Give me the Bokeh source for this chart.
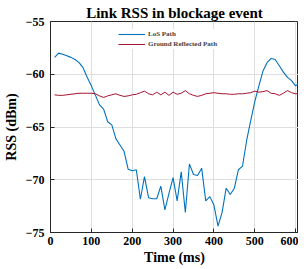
from bokeh.plotting import figure
from bokeh.models import Range1d, FixedTicker, Legend, LegendItem
from bokeh.embed import file_html
from bokeh.resources import INLINE

time_ms = [10, 20, 30, 40, 50, 60, 70, 80, 90, 100,
           110, 120, 130, 140, 150, 160, 170, 180, 190, 200,
           210, 220, 230, 240, 250, 260, 270, 280, 290, 300,
           310, 320, 330, 340, 350, 360, 370, 380, 390, 400,
           410, 420, 430, 440, 450, 460, 470, 480, 490, 500,
           510, 520, 530, 540, 550, 560, 570, 580, 590, 600, 610]

los_rss = [-58.4, -58.0, -58.1, -58.25, -58.4, -58.6, -58.9, -59.4, -60.3, -61.1,
           -62.0, -62.9, -63.3, -64.5, -64.8, -66.1, -66.7, -67.3, -69.0, -69.15,
           -69.05, -71.85, -69.7, -71.7, -71.8, -71.8, -70.6, -72.85, -71.3, -69.8,
           -72.0, -69.25, -73.1, -68.5, -69.5, -69.6, -68.9, -72.0, -71.6, -72.4,
           -74.4, -73.1, -70.8, -71.4, -70.8, -69.05, -68.7, -66.3, -64.4, -62.6,
           -61.1, -59.7, -58.9, -58.5, -58.6, -59.2, -59.8, -60.3, -60.6, -61.1, -60.8]

ground_rss = [-61.95, -62.0, -62.0, -61.95, -61.9, -61.85, -61.8, -61.8, -61.8, -61.8,
              -61.85, -62.05, -62.2, -62.05, -61.95, -61.85, -62.0, -62.1, -62.05, -61.95,
              -61.9, -61.75, -61.6, -61.85, -61.95, -61.7, -61.95, -61.7, -62.0, -61.7,
              -61.9, -61.8, -61.55, -61.85, -62.0, -62.1, -62.0, -61.85, -61.8, -61.75,
              -61.8, -61.85, -61.85, -61.9, -61.9, -61.85, -61.85, -61.8, -61.75, -61.6,
              -61.7, -61.65, -61.55, -61.8, -61.85, -62.0, -61.8, -61.55, -61.75, -61.85, -61.85]

x_ticks = [0, 100, 200, 300, 400, 500, 600]
y_ticks = [-75, -70, -65, -60, -55]
title_text = "Link RSS in blockage event"

FONT = "Liberation Serif"
AX = "#262626"

p = figure(width=298, height=267, output_backend="svg", toolbar_location=None,
           x_range=Range1d(0, 607), y_range=Range1d(-75, -55),
           title=title_text,
           min_border_left=40, min_border_right=0, min_border_top=21, min_border_bottom=0)

p.title.text_font = FONT
p.title.text_font_size = "15px"
p.title.text_font_style = "bold"
p.title.text_color = "black"
p.title.align = "center"
p.title.vertical_align = "bottom"
p.title.standoff = 2

r1 = p.line(time_ms, los_rss, line_color="#0072BD", line_width=1.1)
r2 = p.line(time_ms, ground_rss, line_color="#A2142F", line_width=1.0)

for ax in (p.xaxis[0], p.yaxis[0]):
    ax.axis_line_color = AX
    ax.major_tick_line_color = AX
    ax.major_tick_in = 4
    ax.major_tick_out = 0
    ax.minor_tick_line_color = None
    ax.major_label_text_font = FONT
    ax.major_label_text_font_style = "bold"
    ax.major_label_text_font_size = "12px"
    ax.major_label_text_color = "black"
    ax.axis_label_text_font = FONT
    ax.axis_label_text_font_style = "bold"
    ax.axis_label_text_font_size = "14px"
    ax.axis_label_text_color = "black"

p.xaxis.ticker = FixedTicker(ticks=x_ticks)
p.yaxis.ticker = FixedTicker(ticks=y_ticks)
p.xaxis.axis_label = "Time (ms)"
p.yaxis.axis_label = "RSS (dBm)"
p.xaxis.major_label_standoff = 4
p.xaxis.axis_label_standoff = 2
p.yaxis.major_label_standoff = 6
p.yaxis.axis_label_standoff = 4

p.xgrid.grid_line_color = "#dedede"
p.ygrid.grid_line_color = "#dedede"
p.outline_line_color = AX
p.outline_line_width = 1

legend = Legend(items=[LegendItem(label="LoS Path", renderers=[r1]),
                       LegendItem(label="Ground Reflected Path", renderers=[r2])],
                location=(68, 183))
legend.label_text_font = FONT
legend.label_text_font_style = "bold"
legend.label_text_font_size = "7px"
legend.label_height = 10
legend.glyph_height = 10
legend.glyph_width = 27
legend.label_standoff = 3
legend.spacing = 0
legend.padding = 2
legend.margin = 0
legend.border_line_color = None
legend.background_fill_color = "white"
legend.background_fill_alpha = 1.0
p.add_layout(legend, "center")

open("out.html", "w").write(file_html(p, INLINE))
